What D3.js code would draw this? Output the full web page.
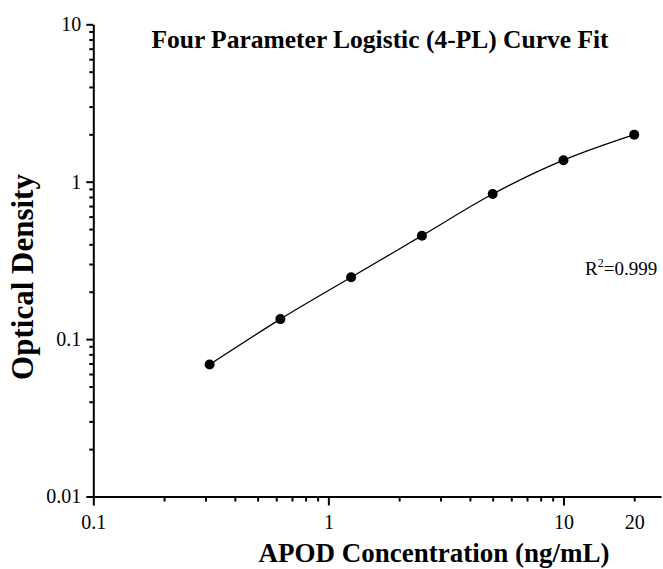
<!DOCTYPE html>
<html>
<head>
<meta charset="utf-8">
<script src="https://cdn.jsdelivr.net/npm/d3@7"></script>
<style>
  body { margin: 0; background: #fff; }
  text { font-family: "Liberation Serif", "Times New Roman", serif; fill: #000; }
</style>
</head>
<body>
<div id="chart"></div>
<script>
  // standard concentrations and measured OD
  const concentrations = [0.3125, 0.625, 1.25, 2.5, 5, 10, 20];
  const odValues = [0.069, 0.134, 0.247, 0.454, 0.835, 1.37, 1.99];

  const xMajorTicks = [0.1, 1, 10];
  const xMinorTicks = [0.2, 0.3, 0.4, 0.5, 0.6, 0.7, 0.8, 0.9, 2, 3, 4, 5, 6, 7, 8, 9, 20];
  const xMinorLabels = [20];
  const yMajorTicks = [0.01, 0.1, 1, 10];
  const yMinorTicks = [0.02, 0.03, 0.04, 0.05, 0.06, 0.07, 0.08, 0.09,
                       0.2, 0.3, 0.4, 0.5, 0.6, 0.7, 0.8, 0.9,
                       2, 3, 4, 5, 6, 7, 8, 9];

  const svgWidth = 663;
  const svgHeight = 569;

  const svg = d3.select("#chart")
    .append("svg")
    .attr("width", svgWidth)
    .attr("height", svgHeight);

  // Scales
  const xScale = d3.scaleLog()
    .domain([0.1, 26])
    .range([93.3, 661]);

  const yScale = d3.scaleLog()
    .domain([0.01, 10])
    .range([496.5, 24.3]);

  const fmt = d => String(d);
  const y0 = yScale(0.01);
  const x0 = xScale(0.1);

  // x axis
  svg.append("g")
    .attr("transform", `translate(0, ${y0})`)
    .call(d3.axisBottom(xScale).tickValues(xMajorTicks).tickFormat(fmt)
      .tickSize(9).tickSizeOuter(0).tickPadding(9.5));

  svg.append("g")
    .attr("transform", `translate(0, ${y0})`)
    .call(d3.axisBottom(xScale).tickValues(xMinorTicks)
      .tickFormat(d => xMinorLabels.includes(d) ? fmt(d) : "")
      .tickSize(5).tickSizeOuter(0).tickPadding(13.5))
    .select(".domain").remove();

  // y axis
  svg.append("g")
    .attr("transform", `translate(${x0}, 0)`)
    .call(d3.axisLeft(yScale).tickValues(yMajorTicks).tickFormat(fmt)
      .tickSize(7).tickSizeOuter(0).tickPadding(5));

  svg.append("g")
    .attr("transform", `translate(${x0}, 0)`)
    .call(d3.axisLeft(yScale).tickValues(yMinorTicks).tickFormat("")
      .tickSize(4).tickSizeOuter(0))
    .select(".domain").remove();

  svg.selectAll(".domain, .tick line")
    .attr("stroke", "#000")
    .attr("stroke-width", 2);

  svg.selectAll(".tick text")
    .style("font-size", "20px")
    .attr("fill", "#000");

  // fitted curve through the standards
  const points = concentrations.map((c, i) => ({ x: c, y: odValues[i] }));

  svg.append("path")
    .datum(points)
    .attr("fill", "none")
    .attr("stroke", "#000")
    .attr("stroke-width", 1.3)
    .attr("d", d3.line()
      .x(d => xScale(d.x))
      .y(d => yScale(d.y))
      .curve(d3.curveMonotoneX));

  svg.selectAll("circle")
    .data(points)
    .enter()
    .append("circle")
    .attr("cx", d => xScale(d.x))
    .attr("cy", d => yScale(d.y))
    .attr("r", 5)
    .attr("fill", "#000");

  // Titles
  svg.append("text")
    .attr("x", 380)
    .attr("y", 48)
    .attr("text-anchor", "middle")
    .style("font-size", "25.5px")
    .style("font-weight", "bold")
    .text("Four Parameter Logistic (4-PL) Curve Fit");

  svg.append("text")
    .attr("x", 434)
    .attr("y", 562)
    .attr("text-anchor", "middle")
    .style("font-size", "27px")
    .style("font-weight", "bold")
    .text("APOD Concentration (ng/mL)");

  svg.append("text")
    .attr("transform", "translate(33, 277) rotate(-90)")
    .attr("text-anchor", "middle")
    .style("font-size", "31px")
    .style("font-weight", "bold")
    .text("Optical Density");

  // R squared
  const r2 = svg.append("text")
    .attr("x", 585)
    .attr("y", 275)
    .style("font-size", "19px");
  r2.append("tspan").text("R");
  r2.append("tspan").attr("dy", -8).style("font-size", "12px").text("2");
  r2.append("tspan").attr("dy", 8).text("=0.999");
</script>
</body>
</html>
